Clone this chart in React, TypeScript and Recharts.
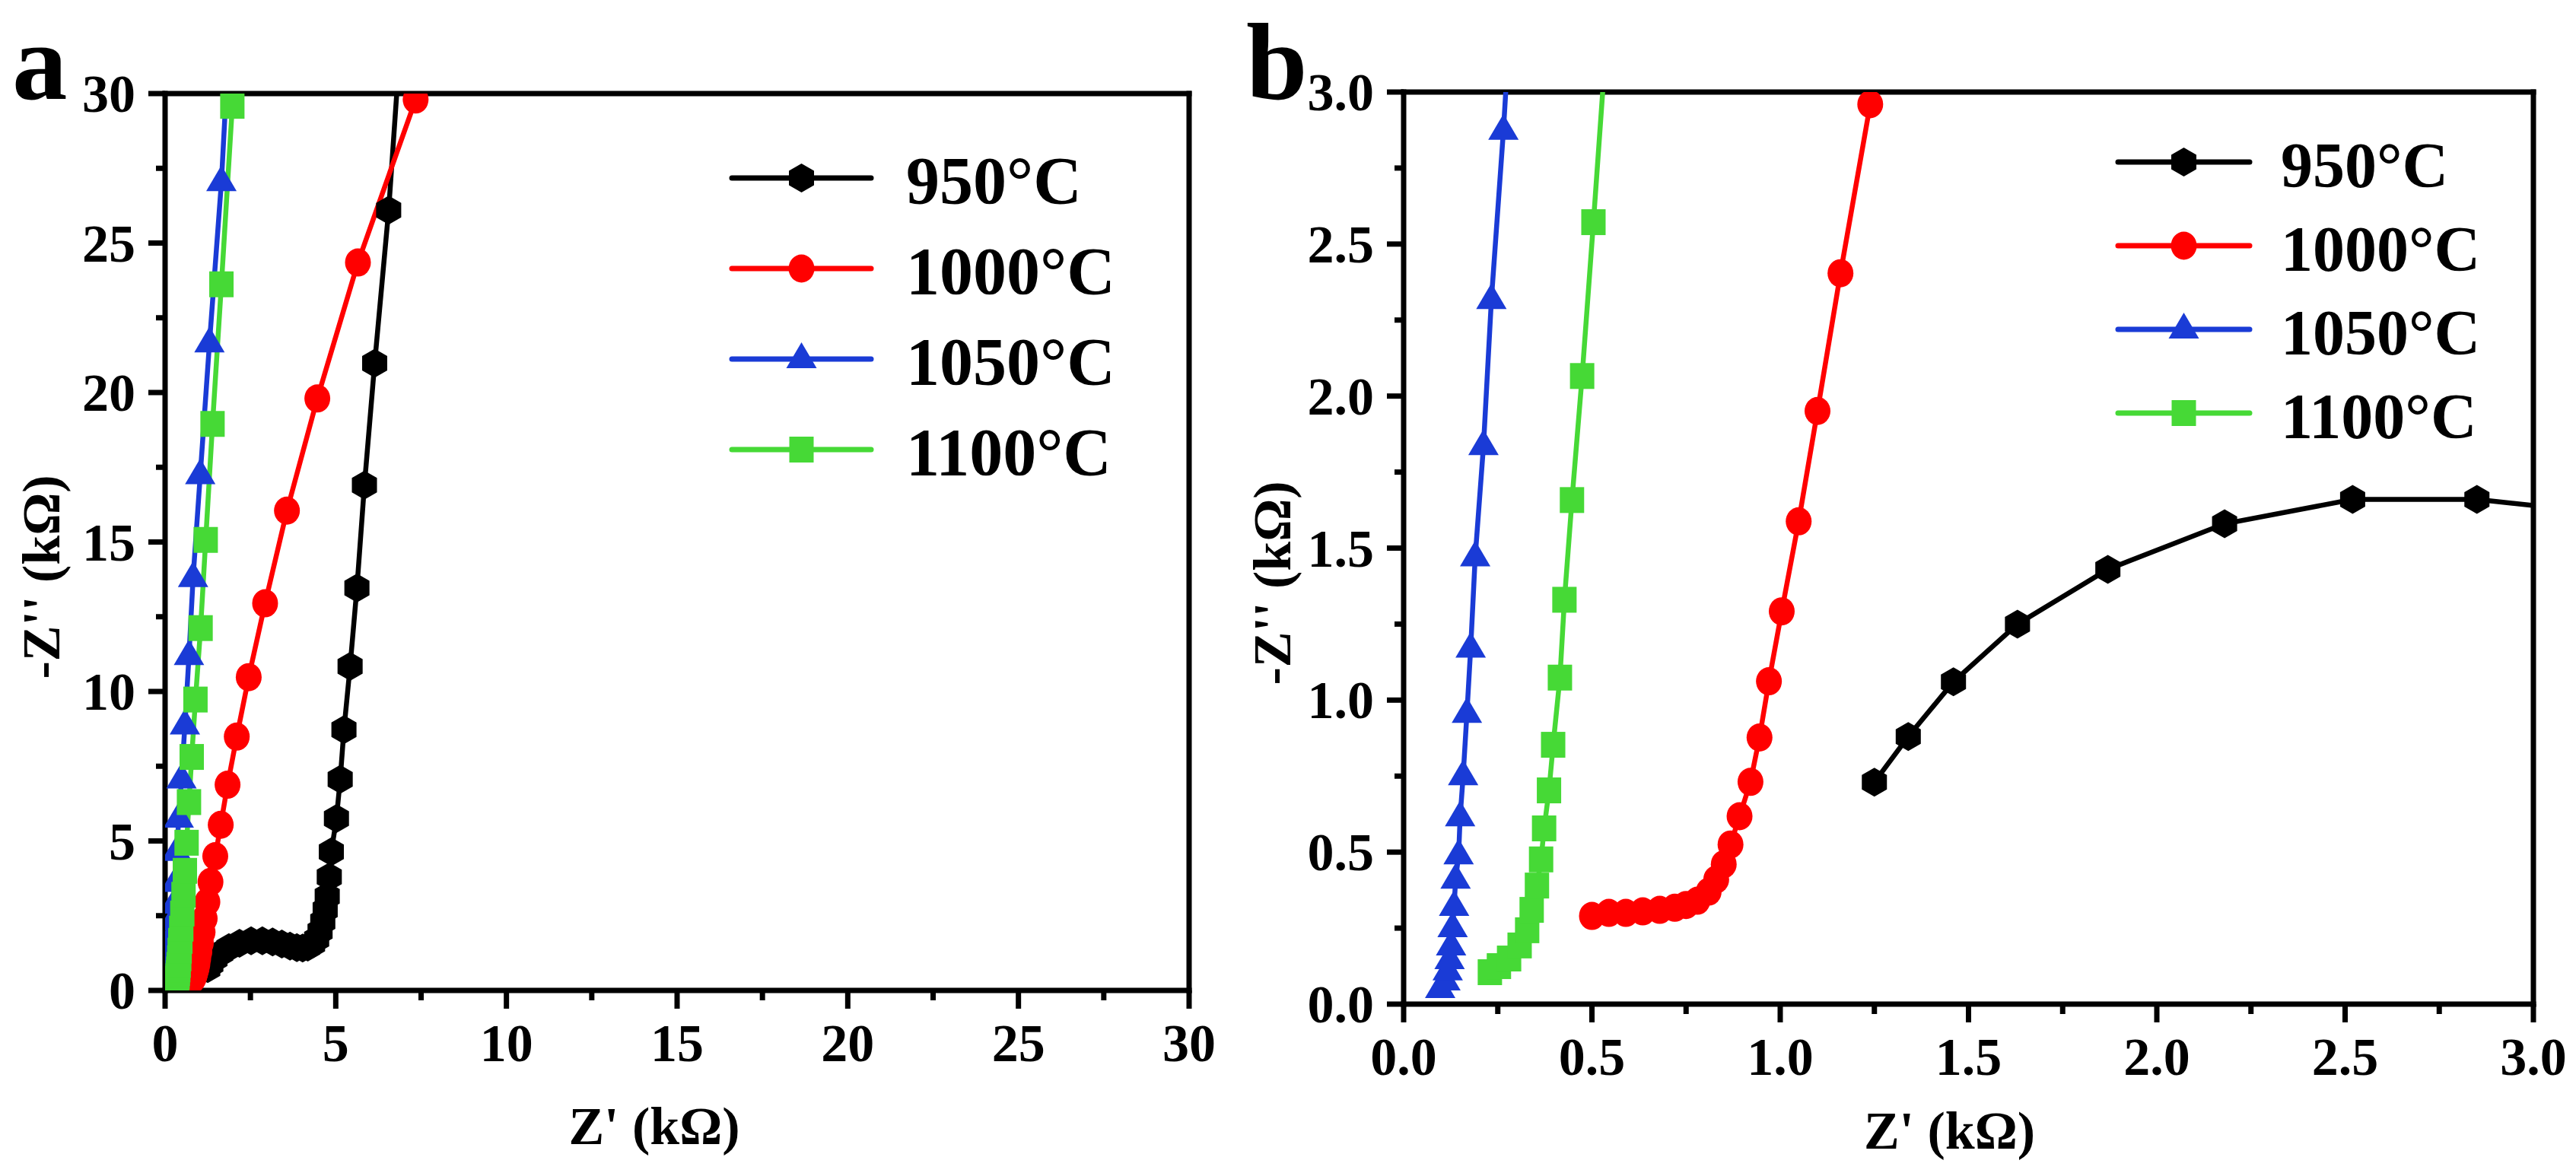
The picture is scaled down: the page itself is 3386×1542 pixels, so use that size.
import React from 'react';
import { LineChart, Line, XAxis, YAxis, ReferenceLine, Legend, Label } from 'recharts';

const FONT = '"Liberation Serif", "Times New Roman", serif';

// Nyquist data, Z' and -Z'' in kOhm
const t950 = [
  [1.25, 0.73], [1.34, 0.88], [1.46, 1.06], [1.63, 1.25], [1.87, 1.43], [2.18, 1.58],
  [2.52, 1.66], [2.85, 1.66], [3.15, 1.62], [3.42, 1.55], [3.66, 1.48], [3.86, 1.43],
  [4.03, 1.42], [4.18, 1.45], [4.32, 1.55], [4.44, 1.72], [4.54, 1.98], [4.62, 2.3],
  [4.69, 2.7], [4.75, 3.15], [4.81, 3.8], [4.87, 4.64], [5.02, 5.75], [5.13, 7.06],
  [5.24, 8.72], [5.42, 10.84], [5.62, 13.46], [5.84, 16.9], [6.14, 20.98], [6.55, 26.1],
  [6.95, 32.7],
];
const t1000 = [
  [0.5, 0.29], [0.545, 0.3], [0.59, 0.3], [0.635, 0.305], [0.68, 0.31], [0.72, 0.317],
  [0.75, 0.326], [0.78, 0.34], [0.81, 0.37], [0.83, 0.41], [0.85, 0.46], [0.868, 0.525],
  [0.892, 0.618], [0.921, 0.731], [0.945, 0.877], [0.97, 1.062], [1.004, 1.292],
  [1.049, 1.588], [1.099, 1.951], [1.16, 2.404], [1.239, 2.96], [1.33, 3.63], [1.47, 4.49],
  [1.63, 5.54], [1.83, 6.88], [2.1, 8.49], [2.45, 10.48], [2.93, 12.95], [3.57, 16.05],
  [4.46, 19.8], [5.65, 24.35], [7.34, 29.8],
];
const t1050 = [
  [0.097, 0.05], [0.111, 0.075], [0.117, 0.108], [0.122, 0.145], [0.126, 0.19], [0.13, 0.25],
  [0.134, 0.32], [0.138, 0.41], [0.146, 0.49], [0.15, 0.615], [0.158, 0.75], [0.168, 0.955],
  [0.178, 1.17], [0.19, 1.47], [0.212, 1.836], [0.233, 2.316], [0.265, 2.873], [0.3, 3.6],
  [0.34, 4.64], [0.4, 5.75], [0.48, 7.06], [0.58, 8.87], [0.7, 11.19], [0.82, 13.8],
  [1.03, 17.24], [1.3, 21.65], [1.65, 27.04], [1.95, 33.5],
];
const t1100 = [
  [0.229, 0.105], [0.253, 0.125], [0.28, 0.15], [0.308, 0.193], [0.328, 0.243], [0.34, 0.31],
  [0.354, 0.39], [0.365, 0.476], [0.373, 0.578], [0.386, 0.703], [0.397, 0.853],
  [0.415, 1.074], [0.427, 1.33], [0.447, 1.658], [0.474, 2.066], [0.504, 2.572], [0.54, 3.2],
  [0.58, 4.0], [0.63, 4.94], [0.7, 6.3], [0.78, 7.81], [0.89, 9.73], [1.04, 12.12],
  [1.19, 15.07], [1.39, 18.95], [1.65, 23.62], [1.97, 29.59],
];

const ticksA = [0, 2.5, 5, 7.5, 10, 12.5, 15, 17.5, 20, 22.5, 25, 27.5, 30];
const ticksB = [0, 0.25, 0.5, 0.75, 1, 1.25, 1.5, 1.75, 2, 2.25, 2.5, 2.75, 3];

const toPts = (a: number[][]) => a.map(([x, y]) => ({ x, y }));

const SERIES = [
  { name: '950°C', color: '#000000', shape: 'hexagon', data: toPts(t950) },
  { name: '1000°C', color: '#ff0000', shape: 'circle', data: toPts(t1000) },
  { name: '1050°C', color: '#1a3bd6', shape: 'triangle', data: toPts(t1050) },
  { name: '1100°C', color: '#46d936', shape: 'square', data: toPts(t1100) },
];

function Marker({ cx, cy, shape, color }: any) {
  if (cx == null || cy == null) return null;
  if (shape === 'hexagon') {
    const w = 16.5, h = 19;
    const pts = [[0, -h], [w, -h / 2], [w, h / 2], [0, h], [-w, h / 2], [-w, -h / 2]]
      .map(([dx, dy]) => `${cx + dx},${cy + dy}`).join(' ');
    return <polygon points={pts} fill={color} />;
  }
  if (shape === 'circle') return <ellipse cx={cx} cy={cy} rx={17} ry={18.5} fill={color} />;
  if (shape === 'triangle') {
    const pts = [[0, -22], [20, 12], [-20, 12]].map(([dx, dy]) => `${cx + dx},${cy + dy}`).join(' ');
    return <polygon points={pts} fill={color} />;
  }
  return <rect x={cx - 16} y={cy - 17} width={32} height={34} fill={color} />;
}

const isMajor = (v: number, step: number) => Math.abs(v / step - Math.round(v / step)) < 1e-6;

function XTick({ x, y, payload, step, digits }: any) {
  const v = payload.value;
  const major = isMajor(v, step);
  return (
    <g>
      <line x1={x} x2={x} y1={y} y2={y + (major ? 24 : 13)} stroke="#000" strokeWidth={7} />
      {major && (
        <text x={x} y={y + 93} textAnchor="middle" fontFamily={FONT} fontWeight="bold" fontSize={70} fill="#000">
          {v.toFixed(digits)}
        </text>
      )}
    </g>
  );
}

function YTick({ x, y, payload, step, digits }: any) {
  const v = payload.value;
  const major = isMajor(v, step);
  return (
    <g>
      <line x1={x - (major ? 22 : 12)} x2={x} y1={y} y2={y} stroke="#000" strokeWidth={7} />
      {major && (
        <text x={x - 39} y={y + 24} textAnchor="end" fontFamily={FONT} fontWeight="bold" fontSize={70} fill="#000">
          {v.toFixed(digits)}
        </text>
      )}
    </g>
  );
}

// legend rows follow the series order (950, 1000, 1050, 1100)
function makeLegend(rowGap: number, lineLen: number, textX: number, fontSize: number) {
  return () => (
    <svg width={620} height={520}>
      {SERIES.map((s, i) => {
        const cy = 60 + i * rowGap;
        return (
          <g key={s.name}>
            <line x1={30} x2={30 + lineLen} y1={cy} y2={cy} stroke={s.color} strokeWidth={7} strokeLinecap="round" />
            <Marker cx={30 + lineLen / 2} cy={cy} shape={s.shape} color={s.color} />
            <text x={textX} y={cy + 33} fontFamily={FONT} fontWeight="bold" fontSize={fontSize} fill="#000">
              {s.name}
            </text>
          </g>
        );
      })}
    </svg>
  );
}

function Panel({ width, margin, yWidth, xHeight, max, ticks, step, digits, titleDx, titleDy, yTitleX, legendPos, legend }: any) {
  return (
    <LineChart width={width} height={1542} margin={margin}>
      <XAxis
        type="number"
        dataKey="x"
        domain={[0, max]}
        allowDataOverflow
        ticks={ticks}
        interval={0}
        height={xHeight}
        tickSize={0}
        tickMargin={0}
        tickLine={false}
        axisLine={{ stroke: '#000', strokeWidth: 7, strokeLinecap: 'square' }}
        tick={<XTick step={step} digits={digits} />}
      >
        <Label
          content={({ viewBox }: any) => (
            <text x={viewBox.x + viewBox.width / 2 + titleDx} y={viewBox.y + titleDy} textAnchor="middle"
              fontFamily={FONT} fontWeight="bold" fontSize={70} fill="#000">
              Z' (kΩ)
            </text>
          )}
        />
      </XAxis>
      <YAxis
        type="number"
        domain={[0, max]}
        allowDataOverflow
        ticks={ticks}
        interval={0}
        width={yWidth}
        tickSize={0}
        tickMargin={0}
        tickLine={false}
        axisLine={{ stroke: '#000', strokeWidth: 7, strokeLinecap: 'square' }}
        tick={<YTick step={step} digits={digits} />}
      >
        <Label
          content={({ viewBox }: any) => {
            const cx = yTitleX;
            const cy = viewBox.y + viewBox.height / 2 + 46;
            return (
              <text x={cx} y={cy} transform={`rotate(-90 ${cx} ${cy})`} textAnchor="middle"
                fontFamily={FONT} fontWeight="bold" fontSize={70} fill="#000">
                -Z'' (kΩ)
              </text>
            );
          }}
        />
      </YAxis>
      <ReferenceLine y={max} stroke="#000" strokeWidth={7} strokeLinecap="square" />
      <ReferenceLine x={max} stroke="#000" strokeWidth={7} strokeLinecap="square" />
      {SERIES.map((s) => (
        <Line
          key={s.name}
          name={s.name}
          data={s.data}
          dataKey="y"
          type="linear"
          stroke={s.color}
          strokeWidth={6.5}
          isAnimationActive={false}
          activeDot={false}
          dot={(p: any) => <Marker key={`${s.name}-${p.index}`} cx={p.cx} cy={p.cy} shape={s.shape} color={s.color} />}
        />
      ))}
      <Legend
        layout="vertical"
        align="center"
        verticalAlign="middle"
        content={legend}
        wrapperStyle={{ left: legendPos[0], top: legendPos[1], width: 620, height: 520 }}
      />
    </LineChart>
  );
}

export default function App() {
  return (
    <div style={{ position: 'absolute', left: 0, top: 0, width: 3386, height: 1542, background: '#fff' }}>
      <div style={{ position: 'absolute', left: 0, top: 0 }}>
        <Panel
          width={1620}
          margin={{ top: 123, right: 57, bottom: 0, left: 0 }}
          yWidth={217}
          xHeight={240}
          max={30}
          ticks={ticksA}
          step={5}
          digits={0}
          titleDx={-30}
          titleDy={202}
          yTitleX={78}
          legendPos={[932, 174]}
          legend={makeLegend(119, 183, 259, 88)}
        />
      </div>
      <div style={{ position: 'absolute', left: 1600, top: 0 }}>
        <Panel
          width={1786}
          margin={{ top: 121, right: 56, bottom: 0, left: 0 }}
          yWidth={245}
          xHeight={222}
          max={3}
          ticks={ticksB}
          step={0.5}
          digits={1}
          titleDx={-25}
          titleDy={190}
          yTitleX={96}
          legendPos={[1154, 153]}
          legend={makeLegend(110, 173, 244, 84)}
        />
      </div>
      <svg width={3386} height={1542} style={{ position: 'absolute', left: 0, top: 0, pointerEvents: 'none' }}>
        <text x={16} y={130} fontFamily={FONT} fontWeight="bold" fontSize={145} fill="#000">a</text>
        <text x={1638} y={130} fontFamily={FONT} fontWeight="bold" fontSize={145} fill="#000">b</text>
      </svg>
    </div>
  );
}
